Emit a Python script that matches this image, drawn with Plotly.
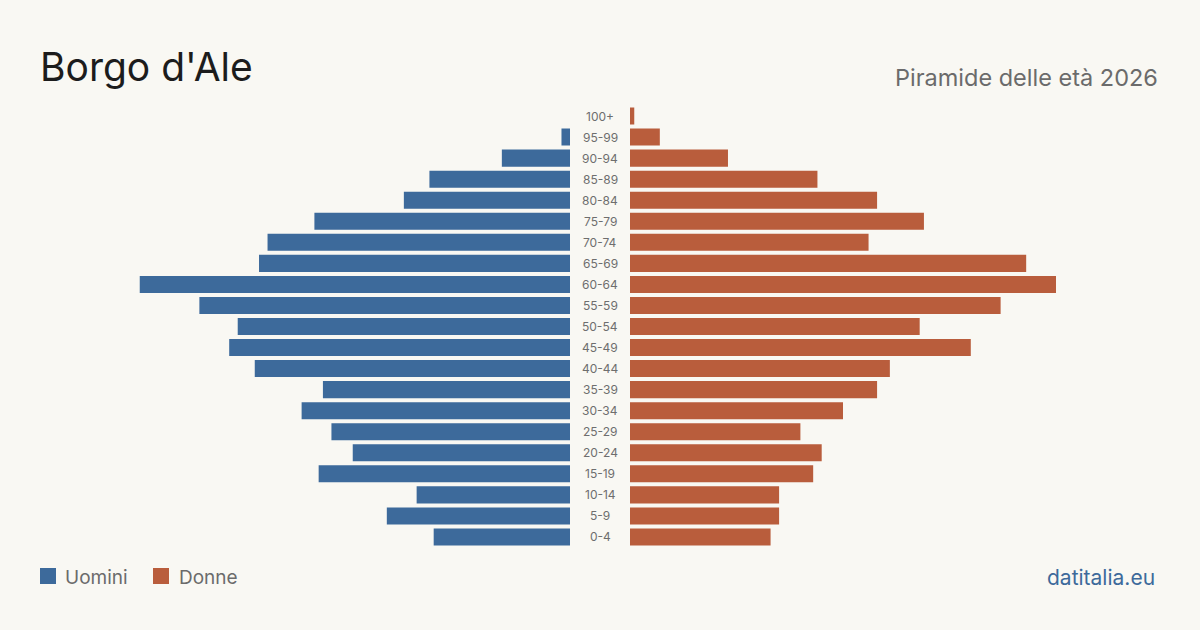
import plotly.graph_objects as go

age_groups = ["0-4", "5-9", "10-14", "15-19", "20-24", "25-29", "30-34", "35-39",
              "40-44", "45-49", "50-54", "55-59", "60-64", "65-69", "70-74",
              "75-79", "80-84", "85-89", "90-94", "95-99", "100+"]
men = [32, 43, 36, 59, 51, 56, 63, 58, 74, 80, 78, 87, 101, 73, 71, 60, 39, 33, 16, 2, 0]
women = [33, 35, 35, 43, 45, 40, 50, 58, 61, 80, 68, 87, 100, 93, 56, 69, 58, 44, 23, 7, 1]

title = "Borgo d'Ale"
subtitle = "Piramide delle età 2026"
source = "datitalia.eu"
legend_labels = ["Uomini", "Donne"]

BLUE = "#3d6a9b"
ORANGE = "#b95d3c"
BG = "#f9f8f3"
W, H = 1200, 630
PX_PER_UNIT = 4.26

def px(x):
    return x / W

def py(y):
    return 1 - y / H

left_dom = [0.0, 570 / W]
right_dom = [630 / W, 1.0]
R = 570 / PX_PER_UNIT

fig = go.Figure()
fig.add_trace(go.Bar(y=age_groups, x=men, orientation="h", marker=dict(color=BLUE, line=dict(width=0)),
                     name=legend_labels[0], xaxis="x", yaxis="y", showlegend=False))
fig.add_trace(go.Bar(y=age_groups, x=women, orientation="h", marker=dict(color=ORANGE, line=dict(width=0)),
                     name=legend_labels[1], xaxis="x2", yaxis="y2", showlegend=False))

ydom = [82.5 / H, 1 - 105.5 / H]
annotations = []
for g in age_groups:
    annotations.append(dict(x=0.5, xref="paper", y=g, yref="y", text=g, showarrow=False,
                            xanchor="center", yanchor="middle",
                            font=dict(family="Inter", size=12, color="#6e6e6e")))

annotations += [
    dict(x=px(38), y=py(67), xref="paper", yref="paper", text=title, showarrow=False,
         xanchor="left", yanchor="middle", font=dict(family="Inter", size=39, color="#1c1c1c")),
    dict(x=px(1160), y=py(77), xref="paper", yref="paper", text=subtitle, showarrow=False,
         xanchor="right", yanchor="middle", font=dict(family="Inter", size=23.5, color="#6b6b6b")),
    dict(x=px(63), y=py(577), xref="paper", yref="paper", text=legend_labels[0], showarrow=False,
         xanchor="left", yanchor="middle", font=dict(family="Inter", size=19, color="#6b6b6b")),
    dict(x=px(177), y=py(577), xref="paper", yref="paper", text=legend_labels[1], showarrow=False,
         xanchor="left", yanchor="middle", font=dict(family="Inter", size=19, color="#6b6b6b")),
    dict(x=px(1157), y=py(577), xref="paper", yref="paper", text=source, showarrow=False,
         xanchor="right", yanchor="middle", font=dict(family="Inter", size=21, color="#3d6a9b")),
]

shapes = [
    dict(type="rect", xref="paper", yref="paper", x0=px(40), x1=px(56), y0=py(584), y1=py(568),
         fillcolor=BLUE, line=dict(width=0)),
    dict(type="rect", xref="paper", yref="paper", x0=px(153), x1=px(169), y0=py(584), y1=py(568),
         fillcolor=ORANGE, line=dict(width=0)),
]

fig.update_layout(
    width=W, height=H,
    margin=dict(l=0, r=0, t=0, b=0),
    paper_bgcolor=BG, plot_bgcolor=BG,
    bargap=0.19,
    xaxis=dict(domain=left_dom, range=[R, 0], visible=False, fixedrange=True),
    xaxis2=dict(domain=right_dom, range=[0, R], visible=False, fixedrange=True, anchor="y2"),
    yaxis=dict(domain=ydom, type="category", categoryorder="array", categoryarray=age_groups,
               range=[-0.5, len(age_groups) - 0.5], visible=False, anchor="x"),
    yaxis2=dict(domain=ydom, type="category", categoryorder="array", categoryarray=age_groups,
                range=[-0.5, len(age_groups) - 0.5], visible=False, anchor="x2", matches="y"),
    annotations=annotations,
    shapes=shapes,
    font=dict(family="Inter"),
)

fig.write_html("out.html")
